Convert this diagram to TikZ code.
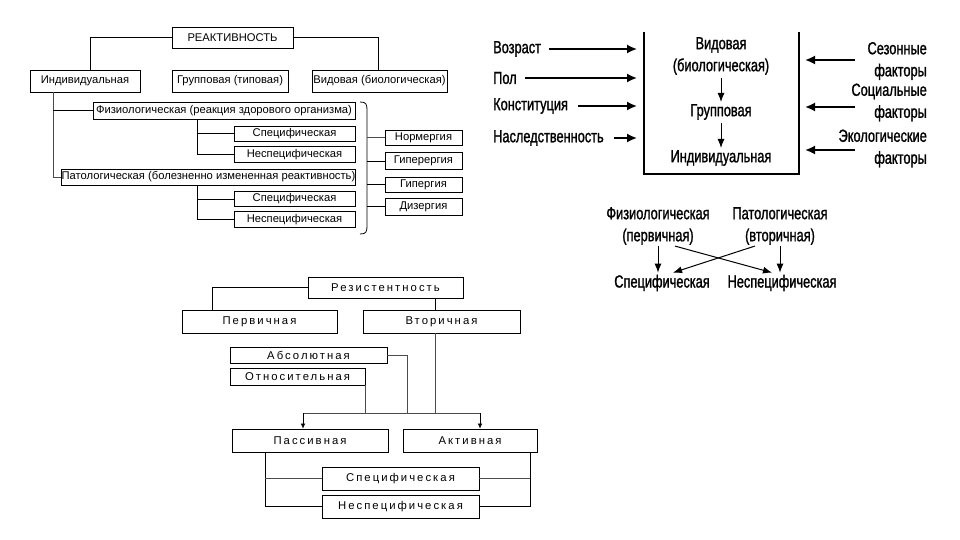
\documentclass[tikz,border=0pt]{standalone}
\usepackage{fontspec}
\setmainfont{Liberation Sans}
\newfontfamily\condfont[FakeStretch=0.73,FakeBold=1.2]{Liberation Sans}
\newfontfamily\widefont[LetterSpace=18]{Liberation Sans}
\usetikzlibrary{arrows.meta,calc}
\begin{document}
\begin{tikzpicture}[x=1pt,y=-1pt,
  tl/.style={draw,line width=0.8pt,inner sep=0pt,font=\fontsize{11.2}{13}\selectfont},
  bt/.style={draw,line width=0.8pt,inner sep=0pt,font=\widefont\fontsize{11.3}{13}\selectfont},
  ln/.style={line width=0.8pt},
  thin/.style={line width=0.5pt,black!70},
  tr/.style={inner sep=0pt,font=\condfont\fontsize{17.5}{22}\selectfont},
  bigarrow/.style={line width=1.7pt,-{Latex[length=10pt,width=9pt]}},
  midarrow/.style={line width=1pt,-{Latex[length=9pt,width=7pt]}},
  smallarrow/.style={line width=0.6pt,-{Latex[length=5pt,width=4.5pt]}}]
\useasboundingbox (0,0) rectangle (960,540);
\fill[white] (0,0) rectangle (960,540);

% ---------------- top-left: Реактивность ----------------
\node[tl,minimum width=121,minimum height=21] (react) at (232.5,37.5) {РЕАКТИВНОСТЬ};
\node[tl,minimum width=110,minimum height=22] (ind) at (85,81) {Индивидуальная};
\node[tl,minimum width=116,minimum height=22] (grp) at (230,81) {Групповая (типовая)};
\node[tl,minimum width=135,minimum height=22] (vid) at (379.5,81) {Видовая (биологическая)};
\draw[ln] (react.west) -| ([xshift=5pt]ind.north);
\draw[ln] (react.east) -| ([xshift=-1.5pt]vid.north);

\node[tl,minimum width=262,minimum height=17] (fiz) at (224,110.5) {Физиологическая (реакция здорового организма)};
\node[tl,minimum width=121,minimum height=15] (spec1) at (294.5,133.5) {Специфическая};
\node[tl,minimum width=121,minimum height=16] (nspec1) at (294.5,154.5) {Неспецифическая};
\node[tl,minimum width=293,minimum height=16] (pat) at (208.5,177) {Патологическая (болезненно измененная реактивность)};
\node[tl,minimum width=121,minimum height=15] (spec2) at (294.5,199) {Специфическая};
\node[tl,minimum width=121,minimum height=16] (nspec2) at (294.5,219.5) {Неспецифическая};

\coordinate (indv) at (53,92);
\draw[thin] (indv) |- (pat.west);
\draw[ln] (indv |- fiz.west) -- (fiz.west);
\coordinate (fv) at (197,119);
\draw[ln] (fv) |- (spec1.west);
\draw[ln] (fv) |- (nspec1.west);
\coordinate (pv) at (197,185);
\draw[ln] (pv) |- (spec2.west);
\draw[ln] (pv) |- (nspec2.west);

\draw[ln] (360,102) .. controls (366,102) and (367,104) .. (367,110) -- (367,226) .. controls (367,232) and (366,234) .. (360,234);
\coordinate (brc) at (367,0);
\node[tl,minimum width=77,minimum height=15] (norm) at (423.5,137.5) {Нормергия};
\node[tl,minimum width=77,minimum height=17] (giper) at (423.5,161) {Гиперергия};
\node[tl,minimum width=77,minimum height=15] (gip) at (423.5,184.5) {Гипергия};
\node[tl,minimum width=77,minimum height=17] (diz) at (423.5,206.5) {Дизергия};
\draw[thin] (norm.west -| brc) -- (norm.west);
\draw[ln] (giper.west -| brc) -- (giper.west);
\draw[ln] (gip.west -| brc) -- (gip.west);
\draw[ln] (diz.west -| brc) -- (diz.west);

% ---------------- top-right ----------------
\draw[line width=1.2pt] (644,32) -- (644,174) -- (799,174) -- (799,32);
\node[tr,align=center] (vidb) at (721,56) {Видовая\\(биологическая)};
\node[tr] (grp2) at (721,112) {Групповая};
\node[tr] (ind2) at (721,158) {Индивидуальная};
\draw[midarrow] ([yshift=-3pt]vidb.south) -- ([yshift=2pt]grp2.north);
\draw[midarrow] ([yshift=-3pt]grp2.south) -- ([yshift=2pt]ind2.north);

\coordinate (lend) at (637,0);
\node[tr,anchor=west] (vozr) at (493,49) {Возраст};
\node[tr,anchor=west] (pol) at (493,78) {Пол};
\node[tr,anchor=west] (konst) at (493,106) {Конституция};
\node[tr,anchor=west] (nasl) at (493,138) {Наследственность};
\draw[bigarrow] ([xshift=8pt]vozr.east) -- (vozr.east -| lend);
\draw[bigarrow] ([xshift=8pt]pol.east) -- (pol.east -| lend);
\draw[bigarrow] ([xshift=10pt]konst.east) -- (konst.east -| lend);
\draw[bigarrow] ([xshift=10pt]nasl.east) -- (nasl.east -| lend);

\coordinate (rstart) at (855,0);
\coordinate (rend) at (805,0);
\node[tr,align=right,anchor=east] (sez) at (927,61) {Сезонные\\факторы};
\node[tr,align=right,anchor=east] (soc) at (927,102.5) {Социальные\\факторы};
\node[tr,align=right,anchor=east] (ekol) at (927,148.5) {Экологические\\факторы};
\draw[bigarrow] ($(sez.west -| rstart)+(0,-1)$) -- ($(sez.west -| rend)+(0,-1)$);
\draw[bigarrow] ($(soc.west -| rstart)+(0,4.5)$) -- ($(soc.west -| rend)+(0,4.5)$);
\draw[bigarrow] ($(ekol.west -| rstart)+(0,1.5)$) -- ($(ekol.west -| rend)+(0,1.5)$);

% ---------------- middle-right ----------------
\node[tr,align=center] (fiz2) at (658,226) {Физиологическая\\(первичная)};
\node[tr,align=center] (pat2) at (780,226) {Патологическая\\(вторичная)};
\node[tr] (spec3) at (662,283) {Специфическая};
\node[tr] (nspec3) at (782,283) {Неспецифическая};
\draw[midarrow] ([yshift=-1pt]fiz2.south) -- ([xshift=-4pt,yshift=2pt]spec3.north);
\draw[midarrow] ([yshift=-1pt]pat2.south) -- ([xshift=-2pt,yshift=2pt]nspec3.north);
\draw[midarrow] ([xshift=17pt,yshift=-1pt]fiz2.south) -- ([xshift=-10pt,yshift=2pt]nspec3.north);
\draw[midarrow] ([xshift=-25pt,yshift=-1pt]pat2.south) -- ([xshift=11pt,yshift=2pt]spec3.north);

% ---------------- bottom: Резистентность ----------------
\node[bt,minimum width=155,minimum height=21] (res) at (385.5,287.5) {Резистентность};
\node[bt,minimum width=155,minimum height=23] (perv) at (259.5,321.5) {Первичная};
\node[bt,minimum width=157,minimum height=23] (vtor) at (441.5,321.5) {Вторичная};
\draw[ln] (res.west) -| ([xshift=-47.5pt]perv.north);
\coordinate (vx) at (435,0);
\coordinate (hlL) at (303,413);
\coordinate (hlR) at (480,413);
\draw[ln] (res.south -| vx) -- (vtor.north -| vx);
\draw[thin] (vtor.south -| vx) -- (vx |- hlL);

\node[bt,minimum width=157,minimum height=16] (abs) at (308.5,355) {Абсолютная};
\node[bt,minimum width=135,minimum height=17] (otn) at (297.5,376.5) {Относительная};
\coordinate (ax) at (407,0);
\draw[thin] (abs.east) -| (ax |- hlL);
\draw[thin] (otn.south east) -- (otn.south east |- hlL);
\draw[thin] (hlL) -- (hlR);

\node[bt,minimum width=156,minimum height=23] (pas) at (310,440.5) {Пассивная};
\node[bt,minimum width=134,minimum height=23] (akt) at (470,440.5) {Активная};
\draw[smallarrow] (hlL) -- (hlL |- pas.north);
\draw[smallarrow] (hlR) -- (hlR |- akt.north);

\node[bt,minimum width=157,minimum height=23] (spec4) at (400.5,478.5) {Специфическая};
\node[bt,minimum width=157,minimum height=23] (nspec4) at (400.5,506.5) {Неспецифическая};
\coordinate (pvx) at (265,0);
\coordinate (avx) at (530,0);
\draw[ln] (pas.south -| pvx) |- (nspec4.west);
\draw[thin] (spec4.west) -- (spec4.west -| pvx);
\draw[ln] (akt.south -| avx) |- (nspec4.east);
\draw[thin] (spec4.east) -- (spec4.east -| avx);
\end{tikzpicture}
\end{document}
